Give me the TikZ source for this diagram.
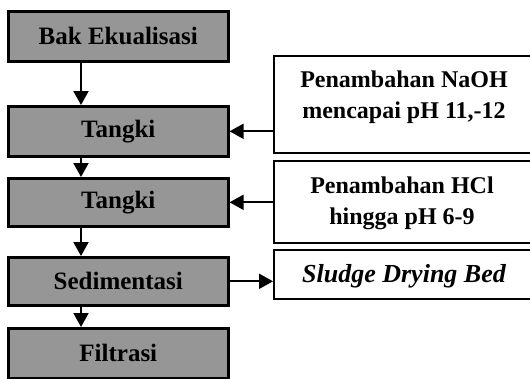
\documentclass[tikz,border=0pt]{standalone}
\usepackage{fontspec}
\setmainfont{Liberation Serif}
\usetikzlibrary{arrows.meta,calc}
\definecolor{boxgray}{HTML}{969696}
\tikzset{
  lbox/.style={draw=black, line width=2.6pt, fill=boxgray, minimum width=220pt, minimum height=49pt, anchor=north west, inner sep=0pt,
    font=\fontsize{25}{28}\selectfont\bfseries},
  rbox/.style={draw=black, line width=2pt, fill=white, minimum width=262pt, anchor=north west, inner sep=0pt},
  rtext/.style={align=center, font=\fontsize{24}{31}\selectfont\bfseries},
  flow/.style={line width=2pt, -{Triangle[width=15pt,length=14pt]}}
}
\begin{document}
\begin{tikzpicture}[x=1pt,y=-1pt]
\useasboundingbox (0,0) rectangle (530,378);
\clip (0,0) rectangle (530,378);
% left column
\node[lbox, minimum height=50pt] (bak) at (7,10) {Bak Ekualisasi};
\node[lbox, minimum height=50pt] (tangkia) at (7,105) {Tangki};
\node[lbox, minimum height=48pt] (tangkib) at (7,177) {Tangki};
\node[lbox, minimum height=48pt] (sed) at (7,256) {Sedimentasi};
\node[lbox, minimum height=50pt] (filt) at (7,327) {Filtrasi};
% right column
\node[rbox, minimum height=97pt] (naoh) at (273,55) {};
\node[rtext] (naohtext) at (404,97) {Penambahan NaOH\\mencapai pH 11,-12};
\node[rbox, minimum height=82pt] (hcl) at (273,160) {};
\node[rtext] (hcltext) at (402,203) {Penambahan HCl\\hingga pH 6-9};
\node[rbox, minimum height=49pt] (sludge) at (273,249) {};
\node[rtext, font=\fontsize{26}{30}\selectfont\bfseries\itshape] (sludgetext) at (404,276) {Sludge Drying Bed};
% vertical flow
\coordinate (xa) at (81,0);
\draw[flow] (bak.south -| xa) -- (tangkia.north -| xa);
\draw[flow] (tangkia.south -| xa) -- (tangkib.north -| xa);
\draw[flow] (tangkib.south -| xa) -- (sed.north -| xa);
\draw[flow] (sed.south -| xa) -- (filt.north -| xa);
% horizontal flow
\draw[flow] (naoh.west |- tangkia.east) -- (tangkia.east);
\draw[flow] (hcl.west |- tangkib.east) -- (tangkib.east);
\draw[flow] (sed.east) -- (sludge.west |- sed.east);
\end{tikzpicture}
\end{document}
